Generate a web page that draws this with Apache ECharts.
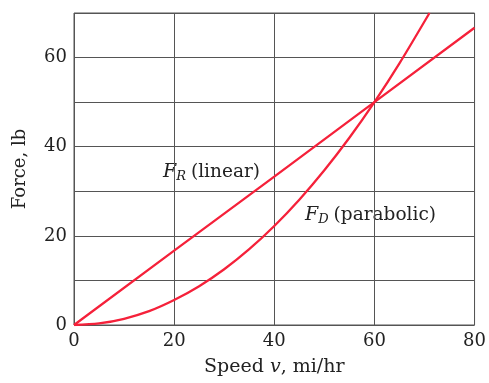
<!DOCTYPE html>
<html>
<head>
<meta charset="utf-8">
<script src="https://cdn.jsdelivr.net/npm/echarts@6/dist/echarts.min.js"></script>
<style>
  html, body { margin: 0; padding: 0; background: #fff; }
  #chart { width: 489px; height: 383px; }
</style>
</head>
<body>
<div id="chart"></div>
<script>
// values
const linearPts = [[0, 0], [20, 16.7], [40, 33.3], [60, 50], [80, 66.7]];
const parabolicPts = [
  [0, 0], [5, 0.35], [10, 1.4], [15, 3.1], [20, 5.6], [25, 8.7], [30, 12.5],
  [35, 17], [40, 22.2], [45, 28.1], [50, 34.7], [55, 42], [60, 50],
  [65, 58.7], [71, 70]
];
const xTicks = [0, 20, 40, 60, 80];
const yTickLabels = [0, 20, 40, 60];

const serif = '"DejaVu Serif", "Liberation Serif", serif';
const red = '#f5213a';
const ink = '#222';
const gridColor = '#555';

const chart = echarts.init(document.getElementById('chart'));

// rich text for the F_x annotations
const annoRich = {
  f: { fontFamily: serif, fontStyle: 'italic', fontSize: 19, fill: ink },
  s: { fontFamily: serif, fontStyle: 'italic', fontSize: 13, fill: ink, padding: [9, 5, 0, 0] },
  t: { fontFamily: serif, fontSize: 18.5, fill: ink }
};

const option = {
  backgroundColor: '#fff',
  animation: false,
  grid: {
    left: 74, right: 12, top: 13, bottom: 58,
    show: true, borderColor: gridColor, borderWidth: 1
  },
  xAxis: {
    type: 'value',
    min: xTicks[0], max: xTicks[xTicks.length - 1], interval: 20,
    name: 'Speed {i|v}, mi/hr',
    nameLocation: 'middle', nameGap: 33,
    nameTextStyle: {
      fontFamily: serif, fontSize: 19, color: ink,
      rich: { i: { fontFamily: serif, fontStyle: 'italic', fontSize: 19, color: ink } }
    },
    axisLine: { show: false },
    axisTick: { show: false },
    axisLabel: { fontFamily: serif, fontSize: 18, color: ink, margin: 7 },
    splitLine: { lineStyle: { color: gridColor, width: 1 } }
  },
  yAxis: {
    type: 'value',
    min: 0, max: 70, interval: 10,
    name: 'Force, lb',
    nameLocation: 'middle', nameGap: 45,
    nameTextStyle: { fontFamily: serif, fontSize: 18, color: ink },
    axisLine: { show: false },
    axisTick: { show: false },
    axisLabel: {
      fontFamily: serif, fontSize: 18, color: ink, margin: 7,
      formatter: v => yTickLabels.includes(v) ? String(v) : ''
    },
    splitLine: { lineStyle: { color: gridColor, width: 1 } }
  },
  series: [
    {
      name: 'linear', type: 'line', data: linearPts,
      showSymbol: false, clip: true,
      lineStyle: { color: red, width: 2.3 }
    },
    {
      name: 'parabolic', type: 'line', data: parabolicPts, smooth: 0.3,
      showSymbol: false, clip: true,
      lineStyle: { color: red, width: 2.3 }
    }
  ],
  graphic: [
    {
      type: 'text', left: 163, top: 163,
      style: { text: '{f|F}{s|R}{t|(linear)}', rich: annoRich }
    },
    {
      type: 'text', left: 305, top: 206,
      style: { text: '{f|F}{s|D}{t|(parabolic)}', rich: annoRich }
    }
  ]
};

chart.setOption(option);
</script>
</body>
</html>
